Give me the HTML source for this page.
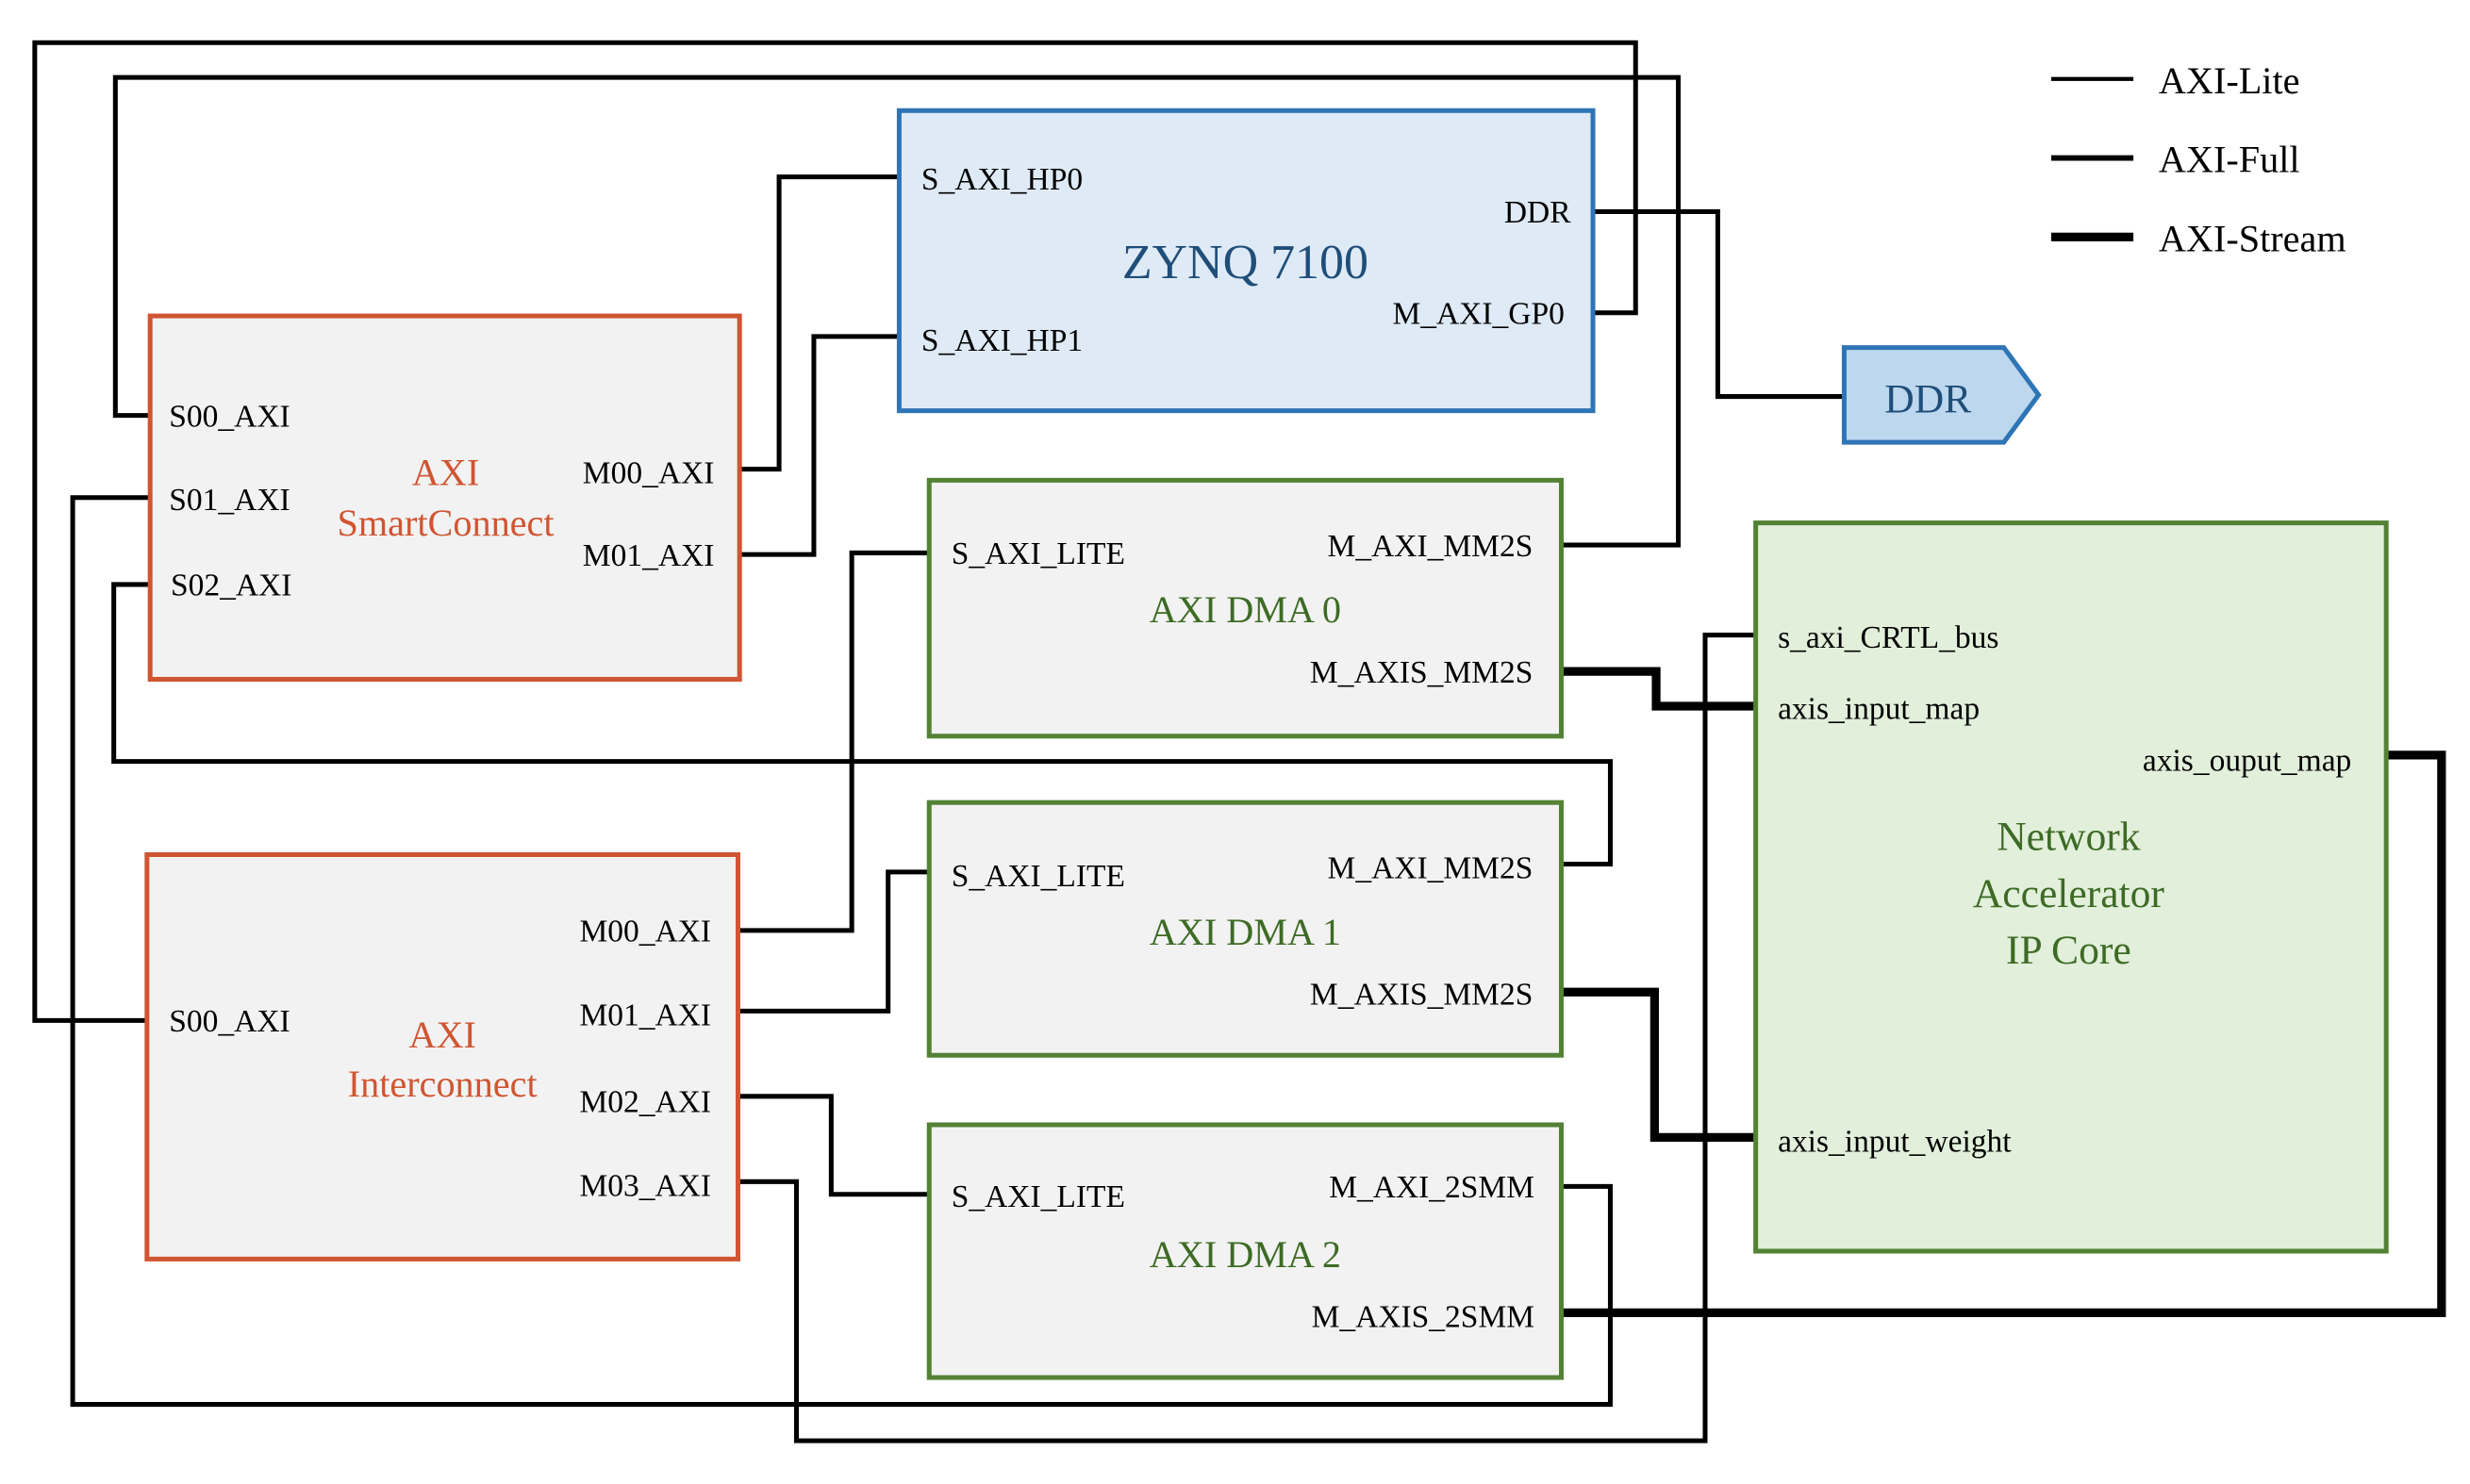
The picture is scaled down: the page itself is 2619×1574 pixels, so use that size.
<!DOCTYPE html>
<html><head><meta charset="utf-8"><style>html,body{margin:0;padding:0;background:#fff}svg{display:block}</style></head>
<body>
<svg width="2619" height="1574" viewBox="0 0 1563 939.4" preserveAspectRatio="none" xmlns="http://www.w3.org/2000/svg" font-family="Liberation Serif, serif">
<g fill="none" stroke="#000" stroke-width="3" stroke-linejoin="miter">
<polyline points="93,646 22,646 22,27 1035,27 1035,198 1008,198"/>
<polyline points="95,263 73,263 73,49 1062,49 1062,345 988,345"/>
<polyline points="1008,134 1087,134 1087,251 1167,251"/>
<polyline points="468,297 493,297 493,112 569,112"/>
<polyline points="468,351 515,351 515,213 569,213"/>
<polyline points="95,315 46,315 46,889 1019,889 1019,751 988,751"/>
<polyline points="95,370 72,370 72,482 1019,482 1019,547 988,547"/>
<polyline points="467,589 539,589 539,350 588,350"/>
<polyline points="467,640 562,640 562,552 588,552"/>
<polyline points="467,694 526,694 526,756 588,756"/>
<polyline points="467,748 504,748 504,912 1079,912 1079,402 1111,402"/>
</g>
<g fill="none" stroke="#000" stroke-width="5.5">
<polyline points="988,425 1048,425 1048,447 1111,447"/>
<polyline points="988,628 1047,628 1047,720 1111,720"/>
<polyline points="988,831 1545,831 1545,478 1510,478"/>
</g>
<!-- boxes -->
<rect x="569" y="70" width="439" height="190" fill="#deeaf6" stroke="#2e75b6" stroke-width="3"/>
<polygon points="1167,220 1268,220 1290,250 1268,280 1167,280" fill="#bdd7ee" stroke="#2e75b6" stroke-width="3"/>
<rect x="95" y="200" width="373" height="230" fill="#f2f2f2" stroke="#d05532" stroke-width="3"/>
<rect x="93" y="541" width="374" height="256" fill="#f2f2f2" stroke="#d05532" stroke-width="3"/>
<rect x="588" y="304" width="400" height="162" fill="#f2f2f2" stroke="#548235" stroke-width="3"/>
<rect x="588" y="508" width="400" height="160" fill="#f2f2f2" stroke="#548235" stroke-width="3"/>
<rect x="588" y="712" width="400" height="160" fill="#f2f2f2" stroke="#548235" stroke-width="3"/>
<rect x="1111" y="331" width="399" height="461" fill="#e2efda" stroke="#548235" stroke-width="3"/>
<!-- legend -->
<g stroke="#000"><line x1="1298" y1="50" x2="1350" y2="50" stroke-width="2.5"/><line x1="1298" y1="100" x2="1350" y2="100" stroke-width="3.5"/><line x1="1298" y1="150" x2="1350" y2="150" stroke-width="5.5"/></g>
<g font-size="24" fill="#000"><text x="1366" y="59">AXI-Lite</text><text x="1366" y="109">AXI-Full</text><text x="1366" y="159">AXI-Stream</text></g>
<!-- titles -->
<g text-anchor="middle">
<text x="788" y="176" font-size="31" fill="#1f4e79">ZYNQ 7100</text>
<text x="1220" y="261" font-size="26" fill="#1f4e79">DDR</text>
<text x="282" y="307" font-size="24" fill="#d05532">AXI</text>
<text x="282" y="339" font-size="24" fill="#d05532">SmartConnect</text>
<text x="280" y="663" font-size="24" fill="#d05532">AXI</text>
<text x="280" y="694" font-size="24" fill="#d05532">Interconnect</text>
<text x="788" y="394" font-size="24" fill="#3d6b25">AXI DMA 0</text>
<text x="788" y="598" font-size="24" fill="#3d6b25">AXI DMA 1</text>
<text x="788" y="802" font-size="24" fill="#3d6b25">AXI DMA 2</text>
<text x="1309" y="538" font-size="26" fill="#3d6b25">Network</text>
<text x="1309" y="574" font-size="26" fill="#3d6b25">Accelerator</text>
<text x="1309" y="610" font-size="26" fill="#3d6b25">IP Core</text>
</g>
<!-- ports -->
<g font-size="20" fill="#000">
<text x="583" y="120">S_AXI_HP0</text>
<text x="583" y="222">S_AXI_HP1</text>
<text x="107" y="270">S00_AXI</text>
<text x="107" y="323">S01_AXI</text>
<text x="108" y="377">S02_AXI</text>
<text x="107" y="653">S00_AXI</text>
<text x="602" y="357">S_AXI_LITE</text>
<text x="602" y="561">S_AXI_LITE</text>
<text x="602" y="764">S_AXI_LITE</text>
<text x="1125" y="410">s_axi_CRTL_bus</text>
<text x="1125" y="455">axis_input_map</text>
<text x="1125" y="729">axis_input_weight</text>
</g>
<g font-size="20" fill="#000" text-anchor="end">
<text x="994" y="141">DDR</text>
<text x="990" y="205">M_AXI_GP0</text>
<text x="452" y="306">M00_AXI</text>
<text x="452" y="358">M01_AXI</text>
<text x="450" y="596">M00_AXI</text>
<text x="450" y="649">M01_AXI</text>
<text x="450" y="704">M02_AXI</text>
<text x="450" y="757">M03_AXI</text>
<text x="970" y="352">M_AXI_MM2S</text>
<text x="970" y="432">M_AXIS_MM2S</text>
<text x="970" y="556">M_AXI_MM2S</text>
<text x="970" y="636">M_AXIS_MM2S</text>
<text x="971" y="758">M_AXI_2SMM</text>
<text x="971" y="840">M_AXIS_2SMM</text>
<text x="1488" y="488">axis_ouput_map</text>
</g>
</svg>
</body></html>
